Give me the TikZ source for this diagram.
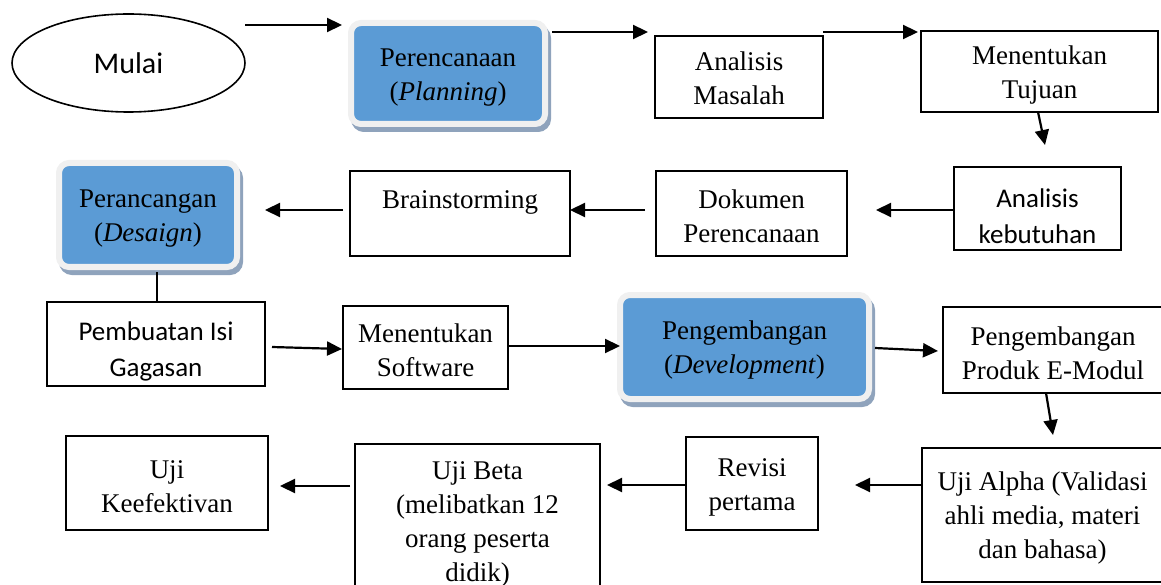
\documentclass[tikz,border=0pt]{standalone}
\usepackage{fontspec}
\setmainfont{Liberation Serif}
\newfontfamily\calibri{Carlito}
\usetikzlibrary{arrows.meta,shadows,shapes.geometric}
\definecolor{phaseblue}{RGB}{91,155,213}
\definecolor{framegray}{RGB}{240,240,240}
\definecolor{shadowblue}{RGB}{143,163,188}
\newcommand\tstrut{\rule{0pt}{25pt}}
\newcommand\bstrut{\rule{0pt}{22pt}}
\newcommand\sstrut{\rule{0pt}{34pt}}
\begin{document}
\begin{tikzpicture}[x=1pt,y=-1pt,
  box/.style={draw, line width=1.6pt, align=center, inner sep=0pt, outer sep=0pt,
    font=\fontsize{27}{34}\selectfont},
  sbox/.style={box, font=\calibri\fontsize{27}{36}\selectfont},
  phase/.style={rectangle, rounded corners=10pt, fill=phaseblue, draw=framegray, line width=6pt,
    align=center, inner sep=0pt, outer sep=0pt, font=\fontsize{27}{34}\selectfont,
    drop shadow={shadow xshift=3pt, shadow yshift=-5pt, fill=shadowblue, draw=shadowblue, line width=6pt, opacity=1}},
  arr/.style={line width=2.2pt, -{Triangle[length=15pt,width=14pt]}},
  link/.style={line width=2.2pt}]
\useasboundingbox (0,0) rectangle (1161,585);

% row 1
\node[ellipse, draw, line width=1.6pt, minimum width=233pt, minimum height=98pt, inner sep=0pt, outer sep=0pt,
  font=\calibri\fontsize{30}{36}\selectfont] (mulai) at (128.5,63) {Mulai};
\node[phase, minimum width=194pt, minimum height=101pt] (plan) at (448,73.5) {\tstrut Perencanaan\\(\textit{Planning})};
\node[box, minimum width=168pt, minimum height=82pt] (am) at (739,77) {\bstrut Analisis\\Masalah};
\node[box, minimum width=237pt, minimum height=81pt] (mt) at (1039.5,71.5) {\tstrut Menentukan\\Tujuan};

% row 2
\node[sbox, minimum width=167pt, minimum height=83pt] (ak) at (1037.5,208.5) {\sstrut Analisis\\kebutuhan};
\node[box, minimum width=191pt, minimum height=85pt] (dp) at (751.5,213.5) {\tstrut Dokumen\\Perencanaan};
\node[box, minimum width=220pt, minimum height=85pt] (bs) at (460,213.5) {\tstrut Brainstorming\\\mbox{}};
\node[phase, minimum width=178pt, minimum height=104pt] (design) at (148,215) {\tstrut Perancangan\\(\textit{Desaign})};

% row 3
\node[sbox, minimum width=218pt, minimum height=84pt] (pig) at (156,344) {\sstrut Pembuatan Isi\\Gagasan};
\node[box, minimum width=165pt, minimum height=83pt] (ms) at (425.5,347.5) {\tstrut Menentukan\\Software};
\node[phase, minimum width=249pt, minimum height=104pt] (dev) at (744.5,347) {\tstrut Pengembangan\\(\textit{Development})};
\node[box, minimum width=220pt, minimum height=86pt] (ppe) at (1053,350) {\tstrut Pengembangan\\Produk E-Modul};

% row 4
\node[box, minimum width=241pt, minimum height=134pt] (ua) at (1042.5,515) {\tstrut Uji Alpha (Validasi\\ahli media, materi\\dan bahasa)};
\node[box, minimum width=132pt, minimum height=93pt] (rp) at (752,483.5) {\tstrut Revisi\\pertama};
\node[box, minimum width=245pt, minimum height=156pt] (ub) at (477.5,522) {\bstrut Uji Beta\\(melibatkan 12\\orang peserta\\didik)};
\node[box, minimum width=202pt, minimum height=94pt] (uk) at (167,483) {\tstrut Uji\\Keefektivan};

% connectors
\draw[arr] ([yshift=38pt]mulai.east) -- ([xshift=-9pt,yshift=-2pt]plan.north west);
\draw[arr] ([xshift=7pt,yshift=41.5pt]plan.east) -- ([xshift=-7pt,yshift=4pt]am.north west);
\draw[arr] ([yshift=4pt]am.north east) -- ([xshift=-3pt,yshift=-1pt]mt.north west);
\draw[arr] ([xshift=-1.5pt]mt.south) -- ([xshift=7.5pt,yshift=22pt]ak.north);
\draw[arr] ([yshift=-1.5pt]ak.west) -- ([xshift=29pt,yshift=3.5pt]dp.east);
\draw[arr] ([xshift=-11pt,yshift=3.5pt]dp.west) -- ([yshift=3.5pt]bs.east);
\draw[arr] ([xshift=-7pt,yshift=3.5pt]bs.west) -- ([xshift=28pt,yshift=5pt]design.east);
\draw[link, shorten >=5pt] ([xshift=1pt]pig.north) -- ([xshift=1pt]pig.north |- design.south);
\draw[arr] ([xshift=7pt,yshift=-3pt]pig.east) -- ([xshift=-1pt,yshift=-1.5pt]ms.west);
\draw[arr] ([yshift=1.5pt]ms.east) -- ([yshift=1pt]dev.west);
\draw[arr] ([xshift=6pt,yshift=-1pt]dev.east) -- ([xshift=-5pt,yshift=-1pt]ppe.west);
\draw[arr] ([xshift=-7pt]ppe.south) -- ([xshift=10.5pt,yshift=13pt]ua.north);
\draw[arr] ([yshift=30pt]ua.west) -- ([xshift=37pt,yshift=-1.5pt]rp.east);
\draw[arr] ([yshift=-1.5pt]rp.west) -- ([xshift=7pt,yshift=37pt]ub.east);
\draw[arr] ([xshift=-5pt,yshift=36pt]ub.west) -- ([xshift=12pt,yshift=-3pt]uk.east);
\end{tikzpicture}
\end{document}
